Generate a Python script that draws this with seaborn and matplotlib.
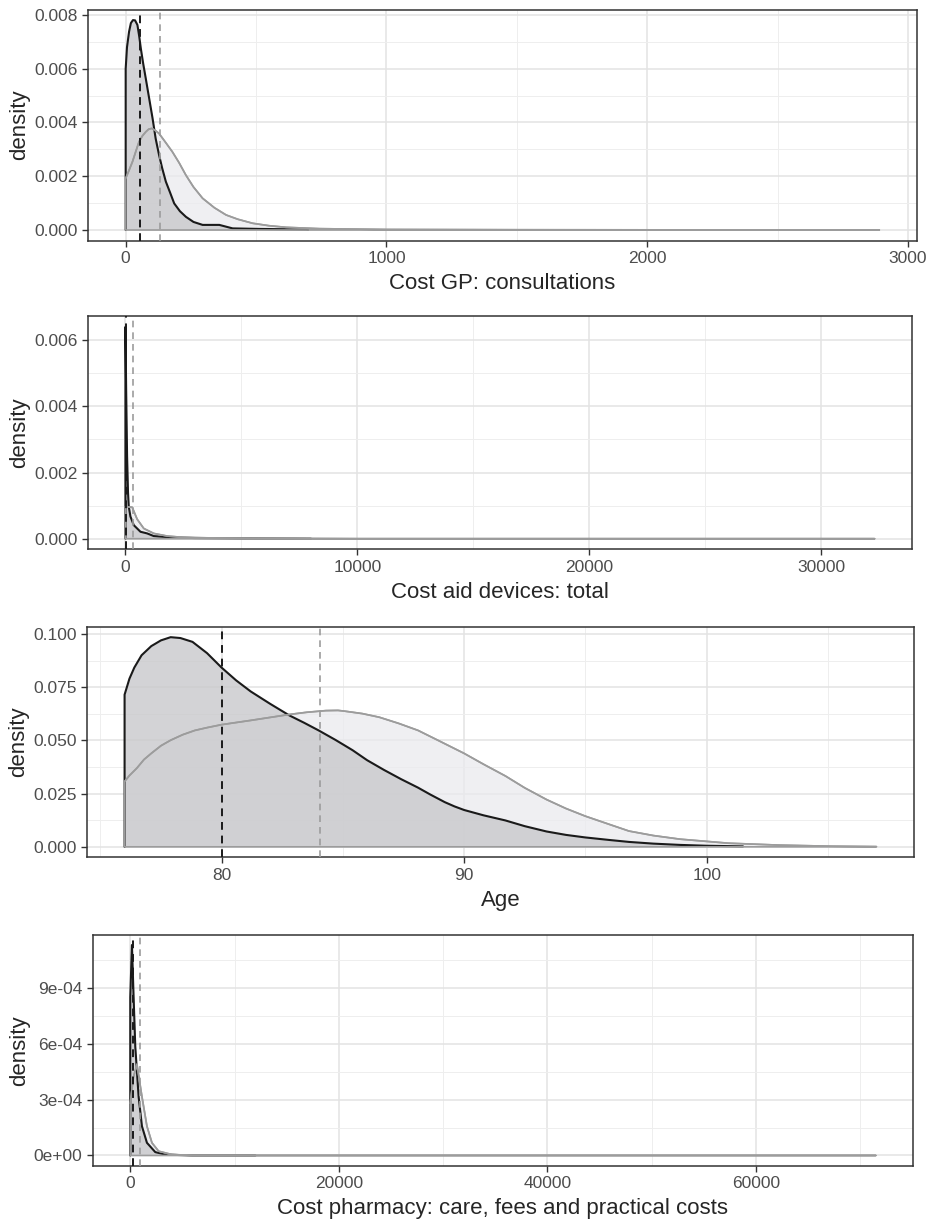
import numpy as np
import matplotlib
matplotlib.use("Agg")
import matplotlib.pyplot as plt
from matplotlib.ticker import FixedLocator
import seaborn as sns

# -- values (density curves, two groups per panel) --

# panel 1: Cost GP: consultations
gp_dark_x = [0, 5, 13, 20, 28, 36, 45, 52, 58, 67, 77, 90, 103, 115, 128, 140, 154, 170, 186,
             208, 231, 260, 295, 359, 410, 512, 692, 700]
gp_dark_y = [0.0060, 0.0068, 0.00738, 0.0077, 0.00781, 0.0078, 0.00763, 0.0072, 0.00676, 0.0062,
             0.00564, 0.0049, 0.00416, 0.0034, 0.00279, 0.0023, 0.0018, 0.0014, 0.00099,
             0.0007, 0.00049, 0.0003, 0.00019, 0.00019, 0.00006, 0.00004, 0.00002, 0.00001]
gp_light_x = [0, 12, 26, 38, 51, 64, 77, 88, 100, 114, 128, 150, 179, 205, 231, 260, 295, 340,
              385, 430, 487, 550, 615, 743, 1000, 1500, 2890]
gp_light_y = [0.00192, 0.0022, 0.00254, 0.0029, 0.00328, 0.0035, 0.00365, 0.00375, 0.00378,
              0.0037, 0.00359, 0.0033, 0.00291, 0.0025, 0.00204, 0.0016, 0.00118, 0.00083,
              0.00056, 0.0004, 0.00025, 0.00016, 0.0001, 0.00005, 0.00002, 0.00001, 0.0]
gp_means = [54, 131]
gp_xticks = [0, 1000, 2000, 3000]
gp_xlabels = ["0", "1000", "2000", "3000"]
gp_yticks = [0, 0.002, 0.004, 0.006, 0.008]
gp_ylabels = ["0.000", "0.002", "0.004", "0.006", "0.008"]

# panel 2: Cost aid devices: total
aid_dark_x = [0, 30, 70, 110, 143, 215, 358, 647, 935, 1220, 1940, 3000, 5000, 8000]
aid_dark_y = [0.0064, 0.0045, 0.0025, 0.0014, 0.00097, 0.00067, 0.00041, 0.00021, 0.00016,
              0.00008, 0.00004, 0.00002, 0.00001, 0.0]
aid_light_x = [0, 290, 504, 790, 1220, 1800, 2510, 4000, 5400, 10000, 32300]
aid_light_y = [0.00097, 0.00095, 0.00059, 0.00031, 0.00016, 0.00008, 0.00004, 0.00002,
               0.00001, 0.0, 0.0]
aid_means = [40, 330]
aid_xticks = [0, 10000, 20000, 30000]
aid_xlabels = ["0", "10000", "20000", "30000"]
aid_yticks = [0, 0.002, 0.004, 0.006]
aid_ylabels = ["0.000", "0.002", "0.004", "0.006"]

# panel 3: Age
age_dark_x = [76.0, 76.2, 76.4, 76.7, 77.1, 77.5, 77.9, 78.3, 78.8, 79.4, 80.0, 80.6, 81.2,
              82.0, 82.8, 83.4, 84.0, 84.7, 85.4, 86.0, 86.7, 87.4, 88.1, 88.6, 89.2, 89.6,
              90.0, 90.8, 91.7, 92.5, 93.4, 94.2, 95.0, 96.0, 96.8, 97.8, 98.9, 100.0, 101.5]
age_dark_y = [0.0715, 0.0790, 0.0842, 0.0900, 0.0943, 0.0970, 0.0985, 0.0981, 0.0963, 0.0910,
              0.0842, 0.0782, 0.0730, 0.0672, 0.0617, 0.0583, 0.0547, 0.0502, 0.0454, 0.0407,
              0.0361, 0.0318, 0.0278, 0.0246, 0.0210, 0.0190, 0.0173, 0.0148, 0.0124, 0.0097,
              0.0072, 0.0056, 0.0044, 0.0032, 0.0023, 0.0015, 0.0009, 0.0005, 0.0002]
age_light_x = [76.0, 76.2, 76.5, 76.8, 77.1, 77.5, 77.9, 78.4, 78.9, 79.4, 80.0, 81.2, 82.8,
               83.5, 84.3, 84.8, 85.1, 85.8, 86.5, 87.3, 88.1, 89.0, 90.0, 90.8, 91.7, 92.5,
               93.4, 94.2, 95.0, 96.0, 96.8, 97.8, 98.9, 100.9, 103.0, 105.1, 107.0]
age_light_y = [0.0307, 0.0335, 0.0369, 0.0410, 0.0439, 0.0475, 0.0501, 0.0527, 0.0547, 0.0560,
               0.0574, 0.0594, 0.0622, 0.0632, 0.0640, 0.0641, 0.0637, 0.0626, 0.0609, 0.0580,
               0.0547, 0.0496, 0.0439, 0.0388, 0.0333, 0.0277, 0.0222, 0.0180, 0.0144, 0.0105,
               0.0074, 0.0053, 0.0036, 0.0017, 0.0008, 0.0003, 0.0001]
age_means = [80.0, 84.05]
age_xticks = [80, 90, 100]
age_xlabels = ["80", "90", "100"]
age_yticks = [0, 0.025, 0.05, 0.075, 0.1]
age_ylabels = ["0.000", "0.025", "0.050", "0.075", "0.100"]

# panel 4: Cost pharmacy
ph_dark_x = [0, 160, 320, 480, 800, 1120, 1600, 2400, 3360, 6000, 12000]
ph_dark_y = [0.00085, 0.00113, 0.00085, 0.000585, 0.000316, 0.000157, 0.000068, 0.000018,
             0.000005, 0.0, 0.0]
ph_light_x = [0, 300, 640, 1120, 1600, 2080, 2720, 4000, 6000, 71500]
ph_light_y = [0.00028, 0.00042, 0.00049, 0.000316, 0.000157, 0.000068, 0.000023, 0.000005,
              0.0, 0.0]
ph_means = [255, 960]
ph_xticks = [0, 20000, 40000, 60000]
ph_xlabels = ["0", "20000", "40000", "60000"]
ph_yticks = [0, 0.0003, 0.0006, 0.0009]
ph_ylabels = ["0e+00", "3e-04", "6e-04", "9e-04"]

titles = ["Cost GP: consultations", "Cost aid devices: total", "Age",
          "Cost pharmacy: care, fees and practical costs"]

panels = [
    (gp_dark_x, gp_dark_y, gp_light_x, gp_light_y, gp_means, gp_xticks, gp_xlabels, gp_yticks, gp_ylabels),
    (aid_dark_x, aid_dark_y, aid_light_x, aid_light_y, aid_means, aid_xticks, aid_xlabels, aid_yticks, aid_ylabels),
    (age_dark_x, age_dark_y, age_light_x, age_light_y, age_means, age_xticks, age_xlabels, age_yticks, age_ylabels),
    (ph_dark_x, ph_dark_y, ph_light_x, ph_light_y, ph_means, ph_xticks, ph_xlabels, ph_yticks, ph_ylabels),
]

# axes boxes in pixels: left, right, top, bottom
boxes = [(88, 917, 9.6, 240.5), (88, 912, 316.3, 549.3), (87, 914, 626.7, 857.3), (93, 913, 934.5, 1166)]

sns.set_style("white")
plt.rcParams['font.family'] = ['Liberation Sans', 'DejaVu Sans']

W, H = 929, 1222
fig = plt.figure(figsize=(W / 100, H / 100), dpi=100)

dark_line = '#1a1a1a'
light_line = '#9c9c9c'

for (dx, dy, lx, ly, means, xt, xl, yt, yl), title, (l, r, t, b) in zip(panels, titles, boxes):
    ax = fig.add_axes([l / W, 1 - b / H, (r - l) / W, (b - t) / H])
    dx, dy, lx, ly = map(np.asarray, (dx, dy, lx, ly))

    # fills: light group under, dark group on top
    ax.fill_between(lx, ly, 0, color='#eaeaee', alpha=0.75, lw=0, zorder=2)
    ax.fill_between(dx, dy, 0, color='#c9c9cc', alpha=0.8, lw=0, zorder=2)

    # dark outline with its left vertical edge
    sns.lineplot(x=np.r_[dx[0], dx], y=np.r_[0, dy], ax=ax, color=dark_line, lw=1.5,
                 sort=False, estimator=None, zorder=3)
    # light group full outline (curve, sides and baseline)
    ax.fill_between(lx, ly, 0, facecolor='none', edgecolor=light_line, lw=1.2, zorder=4)
    sns.lineplot(x=lx, y=ly, ax=ax, color=light_line, lw=1.2, sort=False, estimator=None, zorder=4)

    ax.axvline(means[0], color=dark_line, lw=1.4, ls=(0, (4, 3)), zorder=5)
    ax.axvline(means[1], color=light_line, lw=1.2, ls=(0, (4, 3)), zorder=5)

    # ggplot-like 5% expansion
    xmin = min(dx.min(), lx.min()); xmax = max(dx.max(), lx.max())
    ymax = max(dy.max(), ly.max())
    ax.set_xlim(xmin - 0.05 * (xmax - xmin), xmax + 0.05 * (xmax - xmin))
    ax.set_ylim(-0.05 * ymax, 1.05 * ymax)

    ax.set_xticks(xt)
    ax.set_xticklabels(xl)
    ax.set_yticks(yt)
    ax.set_yticklabels(yl)
    xs = np.diff(xt)[0]; ys = np.diff(yt)[0]
    ax.xaxis.set_minor_locator(FixedLocator(np.arange(xt[0] - xs / 2, xmax + xs, xs)))
    ax.yaxis.set_minor_locator(FixedLocator(np.arange(ys / 2, ymax * 1.1, ys)))

    ax.set_axisbelow(True)
    ax.grid(which='major', color='#e3e3e3', lw=1.1)
    ax.grid(which='minor', color='#eeeeee', lw=0.7)
    ax.tick_params(which='major', length=4, width=1, color='#333333', labelcolor='#4d4d4d',
                   labelsize=12.5, direction='out', bottom=True, left=True)
    ax.tick_params(which='minor', length=0)
    for s in ax.spines.values():
        s.set_color('#333333')
        s.set_linewidth(1.1)

    ax.set_xlabel(title, fontsize=16, labelpad=5)
    ax.set_ylabel('density', fontsize=16, labelpad=3)

fig.savefig('out.png', dpi=100)
